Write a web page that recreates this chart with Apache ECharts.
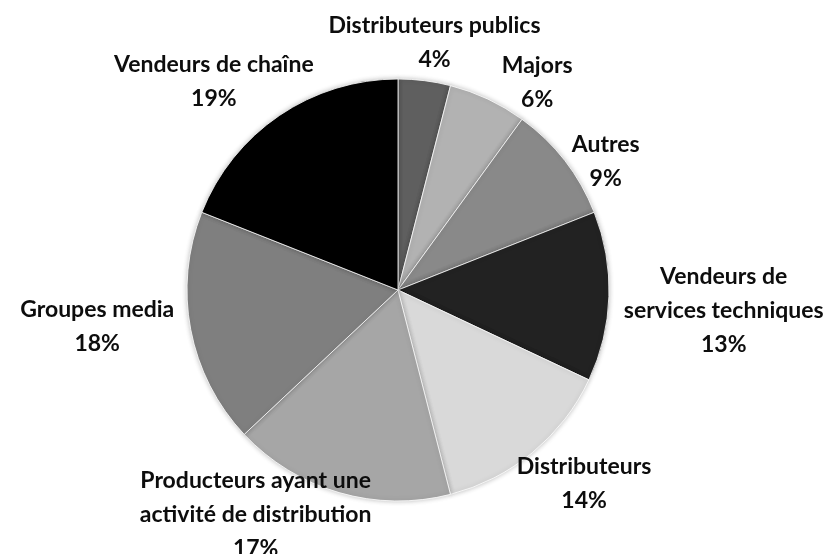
<!DOCTYPE html>
<html>
<head>
<meta charset="utf-8">
<script src="https://cdn.jsdelivr.net/npm/echarts@6/dist/echarts.min.js"></script>
<style>
html,body{margin:0;padding:0;background:#fff;}
#chart{width:836px;height:554px;}
</style>
</head>
<body>
<div id="chart"></div>
<script>
var categories = [
  "Distributeurs publics",
  "Majors",
  "Autres",
  "Vendeurs de\nservices techniques",
  "Distributeurs",
  "Producteurs ayant une\nactivité de distribution",
  "Groupes media",
  "Vendeurs de chaîne"
];
var values = [4, 6, 9, 13, 14, 17, 18, 19];
var sliceColors = ["#5f5f5f", "#b2b2b2", "#898989", "#222222", "#d9d9d9", "#a6a6a6", "#7f7f7f", "#000000"];
// label nudges (layout only, px) relative to the radial placement
var labelNudge = [[5, 2], [33, 18], [11, 24], [11, 11], [17, -11], [-66, -38], [-15, -18], [-28, 21]];

var CX = 398, CY = 290, R = 211, GAP = 4;
var total = values.reduce(function (a, b) { return a + b; }, 0);
var mids = [];
(function () {
  var cum = 0;
  for (var i = 0; i < values.length; i++) {
    mids.push((cum + values[i] / 2) / total * Math.PI * 2);
    cum += values[i];
  }
})();

var chart = echarts.init(document.getElementById('chart'), null, {renderer: 'canvas'});
chart.setOption({
  backgroundColor: '#ffffff',
  animation: false,
  series: [{
    type: 'pie',
    center: [CX, CY],
    radius: [0, R],
    startAngle: 90,
    clockwise: true,
    avoidLabelOverlap: false,
    itemStyle: {
      borderColor: '#ffffff',
      borderWidth: 0.8,
      shadowBlur: 5,
      shadowColor: 'rgba(0,0,0,0.25)'
    },
    label: {
      show: true,
      position: 'outside',
      fontFamily: 'Lato',
      fontWeight: 'bold',
      fontSize: 23,
      lineHeight: 34,
      color: '#0d0d0d',
      formatter: function (p) { return p.name + '\n' + p.value + '%'; }
    },
    labelLine: { show: false },
    labelLayout: function (params) {
      var i = params.dataIndex;
      var a = mids[i];
      var ux = Math.sin(a), uy = -Math.cos(a);
      var hw = params.labelRect.width / 2, hh = params.labelRect.height / 2;
      var d = GAP + Math.sqrt(Math.pow(ux * hw, 2) + Math.pow(uy * hh, 2));
      return {
        x: CX + ux * (R + d) + labelNudge[i][0],
        y: CY + uy * (R + d) + labelNudge[i][1],
        align: 'center',
        verticalAlign: 'middle'
      };
    },
    data: categories.map(function (c, i) {
      return { name: c, value: values[i], itemStyle: { color: sliceColors[i] } };
    })
  }]
});
</script>
</body>
</html>
